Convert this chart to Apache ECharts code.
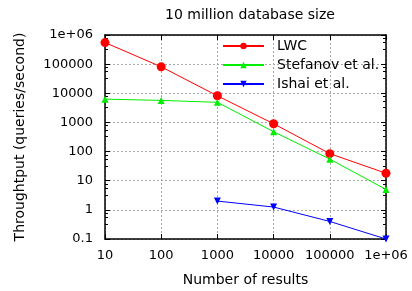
<!DOCTYPE html>
<html>
<head>
<meta charset="utf-8">
<script src="https://cdn.jsdelivr.net/npm/echarts@6/dist/echarts.min.js"></script>
<style>
  html, body { margin: 0; padding: 0; background: #fff; }
  #chart { width: 412px; height: 291px; }
</style>
</head>
<body>
<div id="chart"></div>
<script>
var resultCounts = [10, 100, 1000, 10000, 100000, 1000000];
var lwcValues = [550000, 81000, 8200, 900, 85, 18];
var stefanovValues = [6300, 5700, 4900, 480, 55, 5];
var ishaiCounts = [1000, 10000, 100000, 1000000];
var ishaiValues = [2.0, 1.25, 0.4, 0.1];

function pairs(xs, ys) {
    return xs.map(function (x, i) { return [x, ys[i]]; });
}

function tickLabel(v) {
    v = Number(Number(v).toPrecision(6));
    if (v >= 1000000) return '1e+06';
    return String(v);
}

var font = 'DejaVu Sans';
var myChart = echarts.init(document.getElementById('chart'));

var gridLine = { show: true, lineStyle: { color: '#a8a8a8', type: [2, 2], width: 1 } };
var axisLine = { show: true, onZero: false, lineStyle: { color: '#000', width: 1.5 } };

var option = {
    animation: false,
    backgroundColor: '#fff',
    textStyle: { fontFamily: font },
    title: {
        text: '10 million database size',
        left: 245, top: 3, textAlign: 'center',
        textStyle: { fontFamily: font, fontSize: 14, fontWeight: 'normal', color: '#000' }
    },
    grid: { left: 105, right: 26, top: 35, bottom: 52, outerBoundsMode: 'none' },
    legend: {
        orient: 'vertical',
        left: 222, top: 39, padding: 0,
        itemWidth: 41, itemHeight: 8, itemGap: 5,
        textStyle: { fontFamily: font, fontSize: 14, color: '#000', padding: [0, 0, 0, 8] },
        data: ['LWC', 'Stefanov et al.', 'Ishai et al.']
    },
    xAxis: [{
        type: 'log', logBase: 10, min: 10, max: 1000000,
        name: 'Number of results', nameLocation: 'middle', nameGap: 34,
        nameTextStyle: { fontFamily: font, fontSize: 14, color: '#000' },
        axisLine: axisLine,
        axisTick: { show: true, inside: true, length: 5, lineStyle: { color: '#000' } },
        axisLabel: { fontFamily: font, fontSize: 13, color: '#000', margin: 10, formatter: tickLabel },
        splitLine: gridLine
    }, {
        type: 'log', logBase: 10, min: 10, max: 1000000, position: 'top',
        axisLine: axisLine,
        axisTick: { show: true, inside: true, length: 5, lineStyle: { color: '#000' } },
        axisLabel: { show: false },
        splitLine: { show: false }
    }],
    yAxis: [{
        type: 'log', logBase: 10, min: 0.1, max: 1000000,
        name: 'Throughtput (queries/second)', nameLocation: 'middle', nameGap: 78,
        nameTextStyle: { fontFamily: font, fontSize: 14, color: '#000' },
        axisLine: axisLine,
        axisTick: { show: true, inside: true, length: 5, lineStyle: { color: '#000' } },
        minorTick: { show: true, splitNumber: 4, length: 3, lineStyle: { color: '#000' } },
        axisLabel: { fontFamily: font, fontSize: 13, color: '#000', margin: 12, formatter: tickLabel },
        splitLine: gridLine
    }, {
        type: 'log', logBase: 10, min: 0.1, max: 1000000, position: 'right',
        axisLine: axisLine,
        axisTick: { show: true, inside: true, length: 5, lineStyle: { color: '#000' } },
        minorTick: { show: true, splitNumber: 4, length: 3, lineStyle: { color: '#000' } },
        axisLabel: { show: false },
        splitLine: { show: false }
    }],
    series: [{
        name: 'LWC', type: 'line',
        data: pairs(resultCounts, lwcValues),
        symbol: 'circle', symbolSize: 9,
        itemStyle: { color: '#ff0000' },
        lineStyle: { color: '#ff0000', width: 1 }
    }, {
        name: 'Stefanov et al.', type: 'line',
        data: pairs(resultCounts, stefanovValues),
        symbol: 'triangle', symbolSize: 7,
        itemStyle: { color: '#00ee00' },
        lineStyle: { color: '#00ee00', width: 1 }
    }, {
        name: 'Ishai et al.', type: 'line',
        data: pairs(ishaiCounts, ishaiValues),
        symbol: 'triangle', symbolRotate: 180, symbolSize: 7,
        itemStyle: { color: '#0000ff' },
        lineStyle: { color: '#0000ff', width: 1 }
    }]
};

myChart.setOption(option);
</script>
</body>
</html>
